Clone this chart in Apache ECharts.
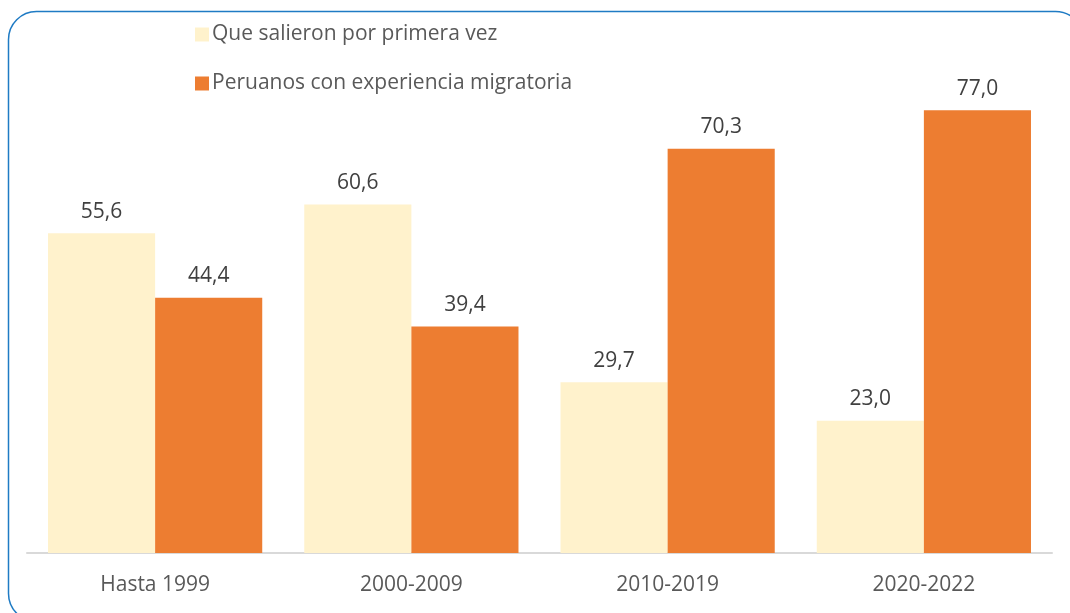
<!DOCTYPE html>
<html>
<head>
<meta charset="utf-8">
<script src="https://cdn.jsdelivr.net/npm/echarts@6/dist/echarts.min.js"></script>
<style>
  html, body { margin: 0; padding: 0; background: #fff; }
  #chart { width: 1070px; height: 613px; }
</style>
</head>
<body>
<div id="chart"></div>
<script>
// datos
const categorias = ['Hasta 1999', '2000-2009', '2010-2019', '2020-2022']
const primeraVez = [55.6, 60.6, 29.7, 23.0]
const conExperiencia = [44.4, 39.4, 70.3, 77.0]
const nombres = ['Que salieron por primera vez', 'Peruanos con experiencia migratoria']

const fuente = '"Open Sans", "Noto Sans", sans-serif'
const fmt = p => p.value.toFixed(1).replace('.', ',')

const chart = echarts.init(document.getElementById('chart'))

const etiqueta = {
    show: true,
    position: 'top',
    distance: 11,
    formatter: fmt,
    color: '#404040',
    fontSize: 21,
    fontFamily: fuente
}

chart.setOption({
    animation: false,
    graphic: [{
        type: 'rect',
        shape: { x: 8.5, y: 11.5, width: 1075, height: 610, r: 28 },
        style: { fill: 'none', stroke: '#1f7bc4', lineWidth: 1.5 },
        silent: true
    }],
    legend: {
        orient: 'vertical',
        left: 190,
        top: 19,
        itemWidth: 14,
        itemHeight: 14,
        itemGap: 28,
        icon: 'rect',
        textStyle: { color: '#595959', fontSize: 21, fontFamily: fuente, padding: [0, 0, 0, -2] },
        data: nombres
    },
    grid: { left: 27, right: 18, top: 93, bottom: 60 },
    xAxis: {
        type: 'category',
        data: categorias,
        axisLine: { lineStyle: { color: '#d9d9d9', width: 2 } },
        axisTick: { show: false },
        axisLabel: { color: '#595959', fontSize: 21, fontFamily: fuente, margin: 22 }
    },
    yAxis: {
        type: 'value',
        min: 0,
        max: 80,
        show: false,
        splitLine: { show: false }
    },
    series: [
        {
            name: nombres[0],
            type: 'bar',
            data: primeraVez,
            barGap: '0%',
            barCategoryGap: '16.4%',
            itemStyle: { color: '#FFF2CC' },
            label: etiqueta
        },
        {
            name: nombres[1],
            type: 'bar',
            data: conExperiencia,
            itemStyle: { color: '#ED7D31' },
            label: etiqueta
        }
    ]
})
</script>
</body>
</html>
